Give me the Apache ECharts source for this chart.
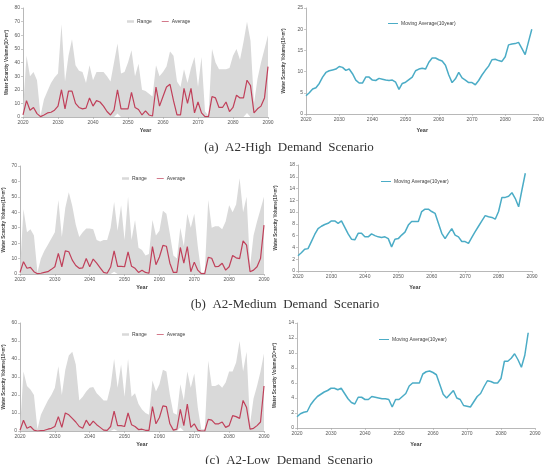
<!DOCTYPE html>
<html><head><meta charset="utf-8">
<script src="https://cdn.jsdelivr.net/npm/echarts@6/dist/echarts.min.js"></script>
<style>html,body{margin:0;padding:0;background:#fff}#c{width:547px;height:464px}</style>
</head><body><div id="c"></div>
<script>
// ---------- DATA ----------
const yearsAnnual = [];
for (let y = 2020; y <= 2090; y++) yearsAnnual.push(y);
const yearsMA = [];
for (let y = 2020; y <= 2088; y++) yearsMA.push(y);

// (a) A2-High
const highUpper = [5,45,30,33,27,1,13,19,25,29, 32,68,26,45,57,38,34,33,25,38, 27,33,33,33,30,26,40,54,32,33, 40,49,30,39,20,19,17,15,38,30, 33,37,48,45,26,22,35,25,36,44, 22,44,4,1,50,40,35,35,35,36, 45,50,42,55,70,56,10,28,40,50, 60];
const highLower = [0,0,0,0,0,0,0,0,0,0, 0,0,0,0,0,0,0,0,0,0, 0,0,0,0,0,0,0,2.5,0,0, 0,0,0,0,0,0,0,0,0,0, 0,0,0,0,0,0,0,0,0,0, 0,0,0,0,0,0,0,0,0,0, 0,0,0,0,3,0,0,0,0,0, 0];
const highAvg = [1.5,12,5,7,2.5,0.3,1.5,3,3.5,5, 8,20,6,19,19,10,7,6,6.5,14, 8,12,11,8,4,1.5,5,20,6,6, 6,18,7,5.5,1.5,4.5,1.5,0.7,22,8, 15,22,24,12,1.5,1.5,21,10,21,3, 11,3,0.3,0.3,15,14,7,7,11,4, 7,16,14,14,27,23,3,6,8,14, 37];
const highMA = [4.3,5.0,5.9,6.2,7.2,8.7,9.8,10.2,10.4,10.6, 11.2,11.0,10.3,10.6,9.5,8.0,7.3,7.3,8.7,8.7, 8.0,7.9,8.4,8.2,8.0,7.9,8.0,7.5,5.8,7.2, 7.5,8.1,8.7,10.2,10.6,10.8,10.6,12.2,13.2,13.2, 12.8,12.5,11.5,9.2,7.4,8.3,9.8,8.5,8.0,7.4, 7.4,6.9,7.9,9.2,10.3,11.3,12.8,12.9,12.6,12.4, 13.5,16.3,16.5,16.6,16.9,15.5,14.0,17.0,20.0];

// (b) A2-Medium
const medUpper = [2,42,27,29,25,1,10,15,19,23, 27,48,24,43,53,44,32,24,27,29.5, 29.5,29,22,21,22,22,30,46.7,28,44.6, 22,50,22,35,17,15.5,12,13,35,25, 28,41,39,26,12,10,30,18,39,30, 39,18,1,1,48,30,31,31,29,34, 44.6,40,45,62,40,50,5,25,34,42, 50];
const medLower = [0,0,0,0,0,0,0,0,0,0, 0,0,0,0,0,0,0,0,0,0, 0,0,0,0,0,0,0,1.5,0,0, 0,0,0,0,0,0,0,0,0,0, 0,0,0,0,0,0,0,0,0,0, 0,0,0,0,0,0,0,0,0,0, 0,0,0,0,0,0,0,0,0,0, 0];
const medAvg = [1,8,3.7,4.3,1.5,0.2,0.5,1,1.5,3, 4.7,13.4,4.7,15,14.4,9,5.5,3.7,4,10, 4.7,9.7,7,4,1,0.5,4.5,15,5,5, 4.7,14.4,5,3.7,1,2.5,1,0.5,17.7,6, 11,18.5,18,7,1,1,17.2,7,17.7,1.5, 7.7,2.5,0.2,0.2,10.8,10.2,4.7,5,7,2.5, 4.7,12,10.5,10,21.5,18.7,1.5,2.5,4.7,10, 31.7];
const medMA = [2.6,3.1,3.7,3.8,5.0,6.2,7.2,7.6,7.9,8.1, 8.5,8.5,8.1,8.5,7.4,6.3,5.4,5.3,6.4,6.4, 5.8,5.8,6.3,6.0,5.8,5.7,5.8,5.5,4.1,5.4, 5.5,6.1,6.6,7.8,8.4,8.4,8.4,10.1,10.5,10.5, 10.1,9.8,8.1,6.4,5.5,6.4,7.2,6.1,5.8,5.0, 5.0,4.7,5.7,6.7,7.6,8.5,9.4,9.2,9.1,8.8, 10.1,12.5,12.5,12.7,13.3,12.3,10.9,13.8,16.6];

// (c) A2-Low
const lowUpper = [0.5,33,25,23,20,1,9,13,17,20, 24,36,20,34,42,44,37,17,19,22, 24,24.5,21,19,17,17,25,40,24,37, 19,40,19,21,15,12,10,9,28,22, 26,34,33,20,10,9,26,17,33,24, 32,13,1,1,39,25,25,26,24,27, 33,33,38,50,33,44,4,18,25,33, 43];
const lowLower = [0,0,0,0,0,0,0,0,0,0, 0,0,0,0,0,0,0,0,0,0, 0,0,0,0,0,0,0,1,0,0, 0,0,0,0,0,0,0,0,0,0, 0,0,0,0,0,0,2,0,0,0, 0,0,0,0,0,0,0,0,0,0, 0,0,0,0,0,0,0,0,0,0, 0];
const lowAvg = [0.4,6,1.5,2.5,0.5,0,0.2,0.4,1,1.5, 2.5,8,2,10,9,7,5,2.5,1.5,6, 3,5.5,3.5,2,0.5,0.3,2.5,11,3,3, 2.5,10,3.5,2.5,0.8,1,0.4,0.3,13.5,4, 7.5,14,13.5,4,0.5,1,12,3,15,2, 4,0.5,0,0,6.5,6,4,4,5,2, 3,8.5,8,7,17,13,1,1.5,3,5, 25];
const lowMA = [1.5,1.9,2.1,2.2,3.1,3.7,4.2,4.5,4.8,5.0, 5.3,5.3,5.1,5.3,4.6,3.9,3.4,3.2,4.1,4.1, 3.8,3.8,4.2,4.1,4.0,3.9,3.9,3.8,2.8,3.8, 3.8,4.2,4.6,5.6,6.0,6.0,6.0,7.2,7.5,7.6, 7.4,7.1,5.8,4.5,4.0,4.5,5.0,4.0,3.8,3.0, 2.9,2.8,3.5,4.2,4.6,5.5,6.3,6.2,6.0,6.0, 6.6,8.9,8.9,9.3,9.9,9.1,8.1,9.7,12.7];

const leftYMax = [80, 70, 60];
const leftYStep = [10, 10, 10];
const rightYMax = [25, 18, 14];
const rightYStep = [5, 2, 2];

const captions = ['(a)  A2-High  Demand  Scenario', '(b)  A2-Medium  Demand  Scenario', '(c)  A2-Low  Demand  Scenario'];
const yTitle = 'Water Scarcity Volume(10\u2076m\u00b3)';
const xTitle = 'Year';
const maName = 'Moving Average(10year)';

// ---------- STYLE / LAYOUT ----------
const GRAY = '#d9d9d9';
const RED = '#c0405a';
const TEAL = '#4bacc6';
const FONT = 'Liberation Sans';

const grids = [
  {left: 23, top: 8, width: 245, height: 109},
  {left: 306, top: 8, width: 234, height: 106},
  {left: 19, top: 166, width: 245, height: 108},
  {left: 298, top: 165, width: 234, height: 106},
  {left: 18, top: 323, width: 246, height: 108},
  {left: 297, top: 323, width: 238, height: 105}
];

const pairs = (xs, vs) => vs.map((v, i) => [xs[i], v]);

const sets = [
  {upper: highUpper, lower: highLower, avg: highAvg, ma: highMA},
  {upper: medUpper, lower: medLower, avg: medAvg, ma: medMA},
  {upper: lowUpper, lower: lowLower, avg: lowAvg, ma: lowMA}
];

const axisLbl = {fontSize: 5, color: '#595959', fontFamily: FONT, margin: 3};
const axisLn = {show: true, lineStyle: {color: '#a6a6a6', width: 0.8}};
const tick = {show: true, length: 2, lineStyle: {color: '#a6a6a6', width: 0.6}};

const xAxis = [], yAxis = [], series = [], legend = [];
for (let g = 0; g < 6; g++) {
  const p = Math.floor(g / 2);
  const isLeft = g % 2 === 0;
  xAxis.push({
    type: 'value', gridIndex: g, min: 2020, max: 2090, interval: 10,
    axisLine: axisLn, axisTick: tick, splitLine: {show: false},
    axisLabel: Object.assign({}, axisLbl, {formatter: v => String(v)}),
    name: xTitle, nameLocation: 'middle', nameGap: isLeft ? 10 : 13,
    nameTextStyle: {fontSize: 5.5, fontWeight: 'bold', color: '#404040', fontFamily: FONT}
  });
  yAxis.push({
    type: 'value', gridIndex: g, min: 0,
    max: isLeft ? leftYMax[p] : rightYMax[p],
    interval: isLeft ? leftYStep[p] : rightYStep[p],
    axisLine: axisLn, axisTick: tick, splitLine: {show: false},
    axisLabel: axisLbl,
    name: yTitle, nameLocation: 'middle', nameGap: isLeft ? 14 : 20,
    nameTextStyle: {fontSize: 4.6, fontWeight: 'bold', color: '#404040', fontFamily: FONT}
  });
}

const legendPos = [
  {left: 127, top: 19}, {left: 388, top: 21},
  {left: 122, top: 176}, {left: 381, top: 179},
  {left: 122, top: 332}, {left: 379, top: 337}
];

for (let p = 0; p < 3; p++) {
  const s = sets[p];
  const gl = p * 2, gr = p * 2 + 1;
  // upper edge of range, filled to the axis
  series.push({
    name: 'Range', type: 'line', xAxisIndex: gl, yAxisIndex: gl,
    data: pairs(yearsAnnual, s.upper), symbol: 'none',
    lineStyle: {width: 0, color: GRAY}, itemStyle: {color: GRAY},
    areaStyle: {color: GRAY, opacity: 1}, z: 1
  });
  // lower edge of range, masked in white
  series.push({
    name: 'RangeLow', type: 'line', xAxisIndex: gl, yAxisIndex: gl,
    data: pairs(yearsAnnual, s.lower), symbol: 'none',
    lineStyle: {width: 0}, areaStyle: {color: '#fff', opacity: 1}, silent: true, z: 2
  });
  series.push({
    name: 'Average', type: 'line', xAxisIndex: gl, yAxisIndex: gl,
    data: pairs(yearsAnnual, s.avg), symbol: 'none',
    lineStyle: {width: 1.2, color: RED}, itemStyle: {color: RED}, z: 3
  });
  series.push({
    name: maName, type: 'line', xAxisIndex: gr, yAxisIndex: gr,
    data: pairs(yearsMA, s.ma), symbol: 'none',
    lineStyle: {width: 1.5, color: TEAL}, itemStyle: {color: TEAL}, z: 3
  });
  legend.push(Object.assign({
    data: [{name: 'Range', icon: 'rect'}, {name: 'Average', icon: 'path://M0,0 L10,0 L10,1 L0,1 Z'}],
    itemWidth: 7, itemHeight: 2.5, itemGap: 10, selectedMode: false,
    textStyle: {fontSize: 5, color: '#404040', fontFamily: FONT, padding: [0,0,0,-2]},
    padding: 0
  }, legendPos[gl]));
  legend.push(Object.assign({
    data: [{name: maName, icon: 'path://M0,0 L10,0 L10,1 L0,1 Z'}],
    itemWidth: 10, itemHeight: 1.5, selectedMode: false,
    textStyle: {fontSize: 5, color: '#404040', fontFamily: FONT, padding: [0,0,0,-2]},
    padding: 0
  }, legendPos[gr]));
}

const capY = [148, 305, 461];
const capX = [289, 285, 289];

const chart = echarts.init(document.getElementById('c'), null, {renderer: 'canvas'});
chart.setOption({
  animation: false,
  backgroundColor: '#fff',
  grid: grids,
  xAxis, yAxis, series, legend,
  graphic: captions.map((t, i) => ({
    type: 'text', x: capX[i], y: capY[i],
    style: {text: t, font: '13px "Liberation Serif"', fill: '#333', align: 'center', verticalAlign: 'middle'}
  }))
});
</script></body></html>
